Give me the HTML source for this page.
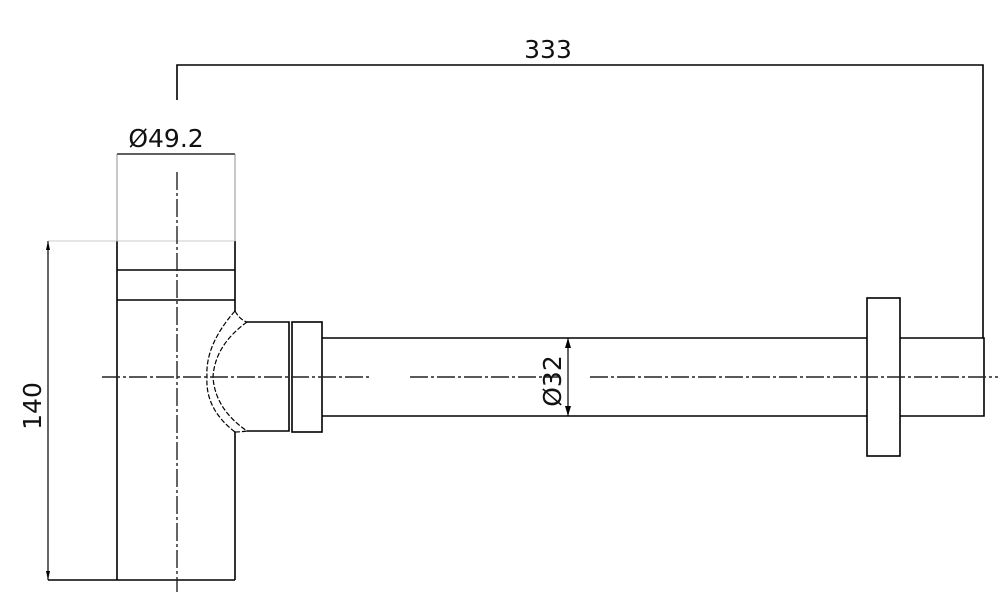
<!DOCTYPE html>
<html><head><meta charset="utf-8"><style>
html,body{margin:0;padding:0;background:#fff;}
svg{display:block;}
text{font-family:"DejaVu Sans","Liberation Sans",sans-serif;fill:#111;}
</style></head><body>
<svg width="1000" height="603" viewBox="0 0 1000 603" xmlns="http://www.w3.org/2000/svg">
<g stroke="#000" fill="none" stroke-width="1.6">
  <!-- body -->
  <line x1="117" y1="241" x2="117" y2="580"/>
  <line x1="235" y1="241" x2="235" y2="311"/>
  <line x1="235" y1="432" x2="235" y2="580"/>
  <line x1="117" y1="270" x2="235" y2="270"/>
  <line x1="117" y1="300" x2="235" y2="300"/>
  <line x1="48" y1="580" x2="235" y2="580"/>
  <!-- socket -->
  <polyline points="247,322 289,322 289,431 247,431"/>
  <rect x="292" y="322" width="30" height="110"/>
  <!-- pipe -->
  <line x1="322" y1="338" x2="867" y2="338"/>
  <line x1="322" y1="416" x2="867" y2="416"/>
  <rect x="867" y="298" width="33" height="158"/>
  <polyline points="900,338 984,338 984,416 900,416"/>
  <!-- dims -->
  <polyline points="177,100 177,65 983,65 983,338"/>
  <line x1="568" y1="338" x2="568" y2="416" stroke-width="1.2"/>
  <line x1="48" y1="241" x2="48" y2="580" stroke-width="1.2"/>
  <line x1="117" y1="154" x2="235" y2="154" stroke-width="1.2"/>
</g>
<g stroke="#777" stroke-width="0.8" fill="none">
  <line x1="117" y1="154" x2="117" y2="241"/>
  <line x1="235" y1="154" x2="235" y2="241"/>
  <line x1="48" y1="241" x2="235" y2="241" stroke="#bbb"/>
</g>
<!-- dashed curves -->
<g stroke="#000" stroke-width="1.2" fill="none" stroke-dasharray="5,2">
  <path d="M235,311 Q205,345 207,377 Q205,409 235,432"/>
  <path d="M247,322 Q215,345 213,377 Q215,409 247,431"/>
  <path d="M235,311 Q240,320 247,322"/>
  <path d="M235,432 Q240,432 247,431"/>
</g>
<!-- centerlines -->
<g stroke="#222" stroke-width="1.4" fill="none" stroke-dasharray="18,3,3,3">
  <line x1="102" y1="377" x2="370" y2="377"/>
  <line x1="410" y1="377" x2="560" y2="377"/>
  <line x1="590" y1="377" x2="998" y2="377"/>
  <line x1="177" y1="172" x2="177" y2="592"/>
</g>
<!-- arrows -->
<g fill="#000">
  <polygon points="568,338 565,348 571,348"/>
  <polygon points="568,416 565,406 571,406"/>
  <polygon points="48,241 46,250 50,250"/>
  <polygon points="48,580 46,571 50,571"/>
</g>
<text x="548" y="58" font-size="25" text-anchor="middle">333</text>
<text x="166" y="147" font-size="25" text-anchor="middle">Ø49.2</text>
<text transform="translate(41,406) rotate(-90)" font-size="25" text-anchor="middle">140</text>
<text transform="translate(561,381) rotate(-90)" font-size="25" text-anchor="middle">Ø32</text>
</svg>
</body></html>
